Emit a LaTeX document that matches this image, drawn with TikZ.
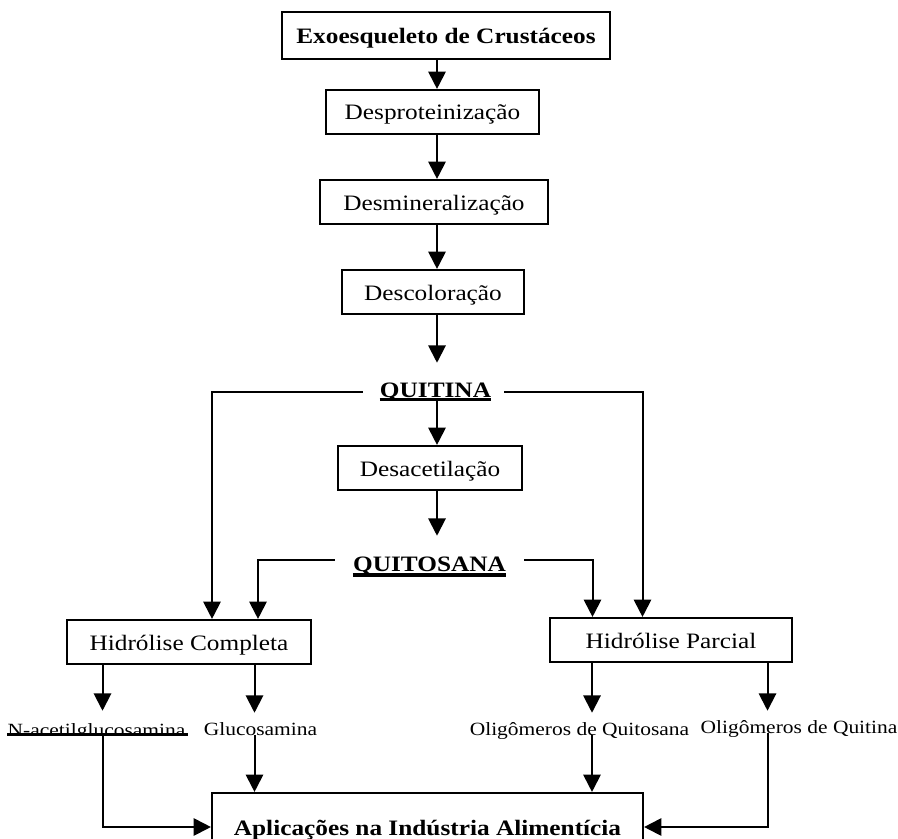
\documentclass[tikz,border=0pt]{standalone}
\usepackage{fontspec}
\setmainfont{Liberation Serif}[FakeStretch=1.15]
\usetikzlibrary{arrows.meta}

\begin{document}
\begin{tikzpicture}[x=0.75pt,y=-0.75pt,
  conn/.style={line width=1.5pt},
  arr/.style={conn,-{Triangle[width=13pt,length=13pt]}},
  stepbox/.style={draw,line width=1.6pt,inner sep=0pt,minimum height=33pt,
    font=\fontsize{16.5}{19}\selectfont,text height=15pt,text depth=3pt},
  title/.style={inner sep=0pt,anchor=base,font=\fontsize{16.5}{19}\selectfont\bfseries},
  product/.style={anchor=base,inner xsep=0pt,inner ysep=6.5pt,text height=10pt,
    text depth=0pt,font=\fontsize{14}{16}\selectfont}]

\useasboundingbox (0,0) rectangle (898,838);

% columns used by the connectors
\coordinate (spine) at (437,0);
\coordinate (cL1) at (212,0);
\coordinate (cL2) at (258,0);
\coordinate (cR2) at (592.5,0);
\coordinate (cR1) at (642.5,0);
\coordinate (cA) at (102.5,0);
\coordinate (cB) at (254.5,0);
\coordinate (cC) at (592,0);
\coordinate (cD) at (767.5,0);

% main sequence
\node[stepbox,font=\fontsize{16.5}{19}\selectfont\bfseries,minimum width=246pt,minimum height=35.25pt]
  (exo) at (446,35.5) {Exoesqueleto de Crustáceos};
\node[stepbox,minimum width=159.75pt] (despro) at (432.5,112) {Desproteinização};
\node[stepbox,minimum width=171pt] (desmin) at (434,202) {Desmineralização};
\node[stepbox,minimum width=136.5pt] (descol) at (433,292) {Descoloração};
\node[title,text height=25.5pt,text depth=3pt] (quitina) at (435.5,397) {QUITINA};
\node[stepbox,minimum width=138pt] (desacet) at (430,468) {Desacetilação};
\node[title,text height=26.25pt,text depth=1pt] (quitosana) at (429.5,571) {QUITOSANA};

% hydrolysis steps
\node[stepbox,minimum width=183pt] (hcomp) at (189,642) {Hidrólise Completa};
\node[stepbox,minimum width=181.5pt] (hparc) at (671,640) {Hidrólise Parcial};

% products; the first label is cut off along its rule
\begin{scope}
  \clip (0,700) rectangle (300,734);
  \node[product,inner ysep=8.75pt] (nacetil) at (96.5,736) {N-acetilglucosamina};
\end{scope}
\node[product] (gluco) at (260.5,735) {Glucosamina};
\node[product] (oligqs) at (579.5,735) {Oligômeros de Quitosana};
\node[product] (oligq) at (799,733) {Oligômeros de Quitina};

% applications
\node[stepbox,font=\fontsize{16.5}{19}\selectfont\bfseries,minimum width=323.25pt,
  minimum height=51pt,text height=14pt,text depth=2pt]
  (aplic) at (427.5,827) {Aplicações na Indústria Alimentícia};

% underlines
\draw[line width=1.6pt] ([yshift=-1.9pt]quitina.base west) -- ([yshift=-1.9pt]quitina.base east);
\draw[line width=3pt] ([yshift=-3pt]quitosana.base west) -- ([yshift=-3pt]quitosana.base east);
\draw[line width=1.6pt] ([yshift=1.1pt]nacetil.base west) -- ([xshift=2pt,yshift=1.1pt]nacetil.base east);

% main column arrows
\draw[arr] (spine |- exo.south) -- (spine |- despro.north);
\draw[arr] (spine |- despro.south) -- (spine |- desmin.north);
\draw[arr] (spine |- desmin.south) -- (spine |- descol.north);
\draw[arr] (spine |- descol.south) -- (spine |- quitina.north);
\draw[arr] (spine |- quitina.south) -- (spine |- desacet.north);
\draw[arr] (spine |- desacet.south) -- (spine |- quitosana.north);

% branches to the hydrolysis steps
\draw[arr] ([xshift=-12.75pt,yshift=3.75pt]quitina.base west) -| (cL1 |- hcomp.north);
\draw[arr] ([xshift=9.75pt,yshift=3.75pt]quitina.base east) -| (cR1 |- hparc.north);
\draw[arr] ([xshift=-13.5pt,yshift=8.25pt]quitosana.base west) -| (cL2 |- hcomp.north);
\draw[arr] ([xshift=13.5pt,yshift=8.25pt]quitosana.base east) -| (cR2 |- hparc.north);

% hydrolysis to products
\draw[arr] (cA |- hcomp.south) -- (cA |- nacetil.north);
\draw[arr] (cB |- hcomp.south) -- (cB |- gluco.north);
\draw[arr] (cC |- hparc.south) -- (cC |- oligqs.north);
\draw[arr] (cD |- hparc.south) -- (cD |- oligq.north);

% products to applications
\draw[arr] ([yshift=1.1pt]cA |- nacetil.base) |- (aplic.west);
\draw[arr] (cB |- gluco.base) -- (cB |- aplic.north);
\draw[arr] (cC |- oligqs.base) -- (cC |- aplic.north);
\draw[arr] (cD |- oligq.base) |- (aplic.east);
\end{tikzpicture}
\end{document}
